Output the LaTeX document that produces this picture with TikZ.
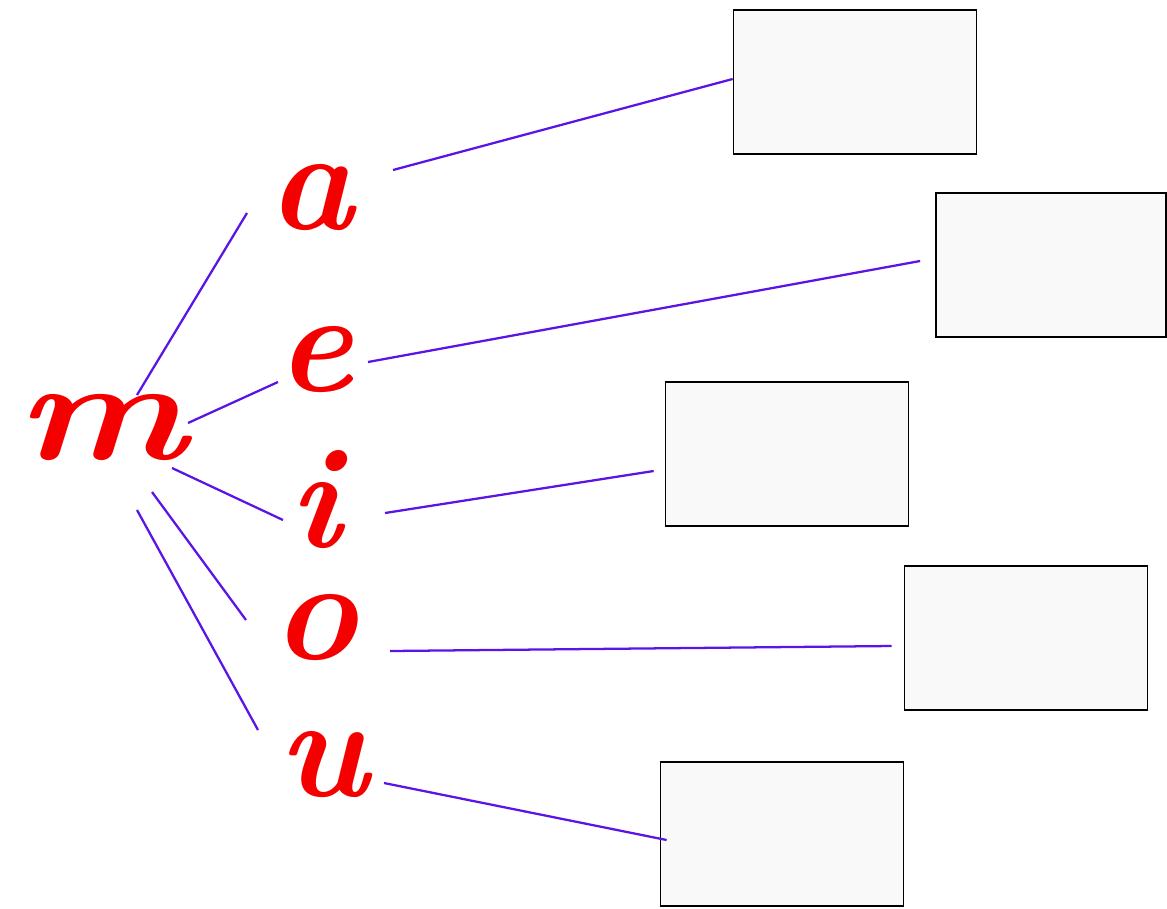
\documentclass[tikz,border=0pt]{standalone}
\usepackage{fontspec}
\definecolor{linkblue}{RGB}{90,20,230}
\definecolor{letterred}{RGB}{245,0,0}
\tikzset{
  letter/.style={text=letterred, inner sep=0pt,
    font=\fontsize{108}{110}\selectfont\bfseries\itshape},
  answer/.style={draw=black, line width=1.3pt, fill=gray!5, inner sep=0pt,
    minimum width={243*0.75pt}, minimum height={144*0.75pt}},
  link/.style={draw=linkblue, line width=1.7pt},
}
\begin{document}
\begin{tikzpicture}[x=0.75pt, y=-0.75pt]
      \useasboundingbox (0,0) rectangle (1167,908);
      %
      \node[letter] (m) at (101,428) {\scalebox{1.25}[1]{m}};     % stem
      %
      \node[letter] (a) at (311,198) {a};     % vowels
      \node[letter] (e) at (315,360) {e};
      \node[letter] (i) at (315,500) {i};
      \node[letter] (o) at (315,628) {o};
      \node[letter] (u) at (323,765) {u};
      %
      \node[answer] (box1) at (855,82) {};    % empty boxes
      \node[answer, minimum width={230*0.75pt}] (box2) at (1051,265) {};
      \node[answer] (box3) at (787,454) {};
      \node[answer] (box4) at (1026,638) {};
      \node[answer] (box5) at (782,834) {};
      %
      \draw[link] ([shift={(36,-33)}]m.center) -- ([shift={(-64,15)}]a.center);  % m to vowels
      \draw[link] ([shift={(87,-5)}]m.center) -- ([shift={(-37,22)}]e.center);
      \draw[link] ([shift={(71,40)}]m.center) -- ([shift={(-32,20)}]i.center);
      \draw[link] ([shift={(51,64)}]m.center) -- ([shift={(-69,-8)}]o.center);
      \draw[link] ([shift={(36,82)}]m.center) -- ([shift={(-65,-35)}]u.center);
      %
      \draw[link] ([shift={(82,-28)}]a.center) -- ([shift={(0,-3)}]box1.west);  % vowels to boxes
      \draw[link] ([shift={(53,2)}]e.center) -- ([shift={(-15,-4)}]box2.west);
      \draw[link] ([shift={(70,13)}]i.center) -- ([shift={(-11,17)}]box3.west);
      \draw[link] ([shift={(75,23)}]o.center) -- ([shift={(-12,8)}]box4.west);
      \draw[link] ([shift={(61,18)}]u.center) -- ([shift={(7,6)}]box5.west);
      %
    \end{tikzpicture}
\end{document}
